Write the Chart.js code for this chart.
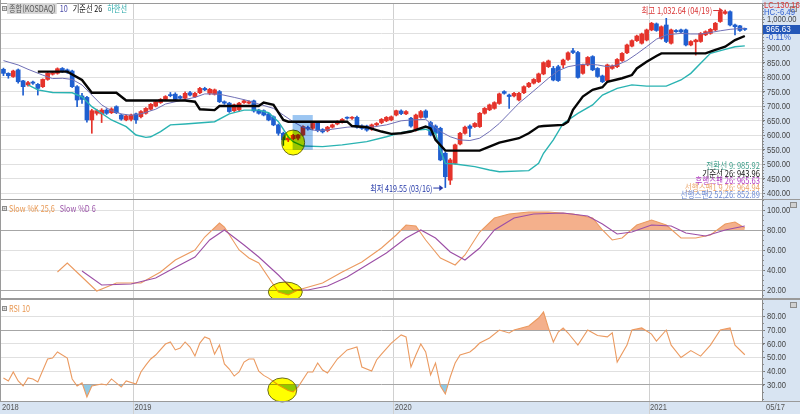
<!DOCTYPE html>
<html lang="ko">
<head>
<meta charset="utf-8">
<title>종합(KOSDAQ) 주봉</title>
<script src="https://cdn.jsdelivr.net/npm/chart.js@4.4.1/dist/chart.umd.min.js"></script>
<style>
  html, body { margin: 0; padding: 0; background: #fff; }
  #wrap { position: relative; width: 800px; height: 414px; overflow: hidden; background: #fff; }
  #wrap canvas { position: absolute; left: 0; }
</style>
</head>
<body>
<div id="wrap">
  <canvas id="priceChart" width="800" height="200" style="top:0"></canvas>
  <canvas id="stochChart" width="800" height="100" style="top:199px"></canvas>
  <canvas id="rsiChart" width="800" height="115" style="top:299px"></canvas>
</div>
<script>
// weekly candles, first week 2018-06-25, last week 2021-05-17
const firstWeek = '2018-06-25';
const emptySlots = 3;

const opens = [
  828, 814, 803, 826, 788, 774, 784, 776, 768, 793,
  811, 814, 831, 826, 822, 768, 736, 731, 653, 676,
  674, 687, 678, 699, 670, 653, 655, 674, 664, 676,
  690, 701, 713, 724, 740, 742, 734, 728, 747, 733,
  747, 762, 745, 742, 751, 716, 711, 685, 688, 713,
  711, 719, 687, 685, 674, 664, 636, 607, 584, 588,
  590, 601, 627, 624, 644, 620, 616, 628, 639, 645,
  661, 659, 662, 632, 632, 621, 636, 644, 650, 653,
  670, 684, 674, 659, 618, 662, 684, 644, 632, 624,
  538, 445, 503, 570, 607, 632, 630, 630, 676, 688,
  693, 710, 751, 739, 736, 722, 747, 768, 780, 785,
  812, 837, 831, 837, 843, 862, 892, 886, 814, 843,
  872, 831, 805, 789, 831, 837, 858, 885, 908, 927,
  918, 929, 964, 985, 935, 981, 918, 962, 964, 964,
  912, 923, 924, 947, 952, 964, 993, 1021, 1027, 981,
  978, 966
];
const highs = [
  832, 816, 825, 829, 790, 786, 787, 779, 795, 817,
  819, 833, 834, 829, 825, 772, 745, 735, 690, 690,
  692, 692, 695, 702, 673, 670, 673, 677, 685, 696,
  710, 719, 727, 737, 748, 747, 737, 750, 752, 748,
  766, 766, 762, 760, 755, 719, 714, 708, 714, 722,
  719, 722, 690, 688, 677, 667, 639, 611, 596, 603,
  603, 633, 632, 644, 647, 623, 631, 639, 650, 658,
  664, 665, 666, 636, 635, 639, 644, 658, 665, 667,
  687, 688, 685, 662, 673, 686, 688, 648, 636, 628,
  542, 520, 570, 610, 632, 636, 644, 679, 696, 708,
  716, 746, 754, 742, 748, 748, 771, 783, 796, 815,
  854, 860, 838, 842, 863, 888, 900, 890, 846, 872,
  875, 834, 808, 846, 843, 865, 886, 915, 930, 946,
  953, 967, 990, 988, 978, 1004, 967, 965, 967, 967,
  927, 932, 955, 961, 969, 990, 1030, 1032.64, 1030, 984,
  980, 970
];
const lows = [
  806, 797, 800, 780, 739, 770, 776, 739, 765, 790,
  808, 811, 817, 814, 765, 699, 710, 645, 607, 670,
  644, 672, 675, 675, 652, 650, 650, 641, 660, 673,
  687, 698, 710, 721, 733, 721, 725, 724, 736, 730,
  744, 754, 740, 739, 713, 707, 679, 682, 682, 710,
  708, 680, 673, 667, 650, 633, 600, 565, 578, 584,
  584, 598, 618, 620, 612, 608, 612, 625, 636, 642,
  656, 655, 625, 620, 614, 617, 633, 640, 647, 650,
  667, 671, 671, 628, 614, 659, 659, 598, 604, 512,
  419.55, 430, 500, 567, 604, 595, 627, 627, 673, 685,
  690, 707, 742, 693, 733, 719, 744, 765, 777, 782,
  809, 834, 788, 786, 834, 859, 882, 797, 811, 840,
  823, 800, 782, 786, 828, 834, 855, 882, 905, 924,
  915, 926, 961, 959, 932, 920, 915, 955, 954, 909,
  909, 877, 921, 944, 949, 961, 990, 1018, 978, 947,
  959, 962
];
const closes = [
  814, 806, 822, 785, 768, 782, 780, 762, 793, 814,
  816, 830, 820, 818, 768, 722, 724, 653, 685, 685,
  687, 676, 691, 678, 656, 667, 670, 653, 682, 693,
  707, 716, 724, 734, 737, 724, 728, 745, 739, 745,
  762, 757, 759, 757, 716, 711, 682, 705, 711, 719,
  716, 684, 676, 670, 653, 636, 607, 584, 590, 600,
  601, 630, 622, 641, 616, 612, 628, 636, 647, 655,
  659, 662, 628, 624, 618, 636, 641, 655, 662, 664,
  685, 675, 682, 632, 670, 682, 662, 601, 607, 515,
  457, 515, 567, 607, 628, 624, 641, 676, 693, 705,
  713, 743, 745, 734, 745, 745, 768, 780, 793, 812,
  851, 857, 791, 789, 860, 885, 886, 800, 843, 869,
  826, 803, 785, 843, 839, 862, 883, 912, 927, 943,
  950, 964, 987, 962, 975, 924, 964, 958, 957, 912,
  924, 929, 952, 958, 966, 987, 1027, 1027, 981, 975,
  962, 965.63
];

// lines as [week index, value]
const line10 = [
  [0, 858], [3, 843], [5, 828], [8, 808], [10, 796], [12, 797], [14, 793], [16, 774],
  [18, 739], [20, 705], [22, 685], [24, 674], [26, 669], [28, 674], [31, 690], [33, 708],
  [36, 720], [39, 731], [41, 743], [44, 742], [47, 731], [50, 719], [52, 708], [55, 693],
  [57, 670], [59, 647], [61, 628], [63, 618], [65, 616], [67, 621], [70, 628], [73, 632],
  [75, 628], [78, 636], [81, 650], [83, 653], [86, 655], [89, 613], [91, 595], [93, 584],
  [95, 582], [97, 590], [99, 613], [101, 641], [103, 676], [105, 711], [107, 739], [109, 768],
  [111, 797], [113, 823], [115, 837], [117, 843], [119, 846], [121, 843], [123, 837], [125, 843],
  [127, 858], [129, 881], [131, 906], [133, 932], [135, 947], [138, 952], [140, 950], [142, 950],
  [144, 955], [146, 961], [148, 966], [151, 970]
];
const baseLine26 = [
  [7, 820], [13, 820], [16, 791], [18, 747], [23, 747], [25, 720], [37, 720], [39, 716],
  [40, 690], [43, 687], [44, 701], [52, 701], [53, 713], [55, 705], [57, 653], [58, 647],
  [70, 647], [71, 632], [74, 628], [77, 613], [79, 605], [81, 607], [83, 613], [86, 630],
  [87, 624], [88, 584], [90, 547], [97, 547], [99, 561], [101, 575], [105, 590], [107, 607],
  [109, 630], [110, 632], [114, 636], [115, 647], [116, 688], [118, 734], [120, 757], [122, 766],
  [123, 785], [126, 797], [128, 808], [129, 831], [131, 854], [133, 874], [134, 883], [143, 883],
  [145, 895], [147, 906], [149, 929], [151, 943]
];
const lowerLine = [
  [5, 774], [7, 757], [10, 748], [14, 747], [16, 733], [18, 699], [22, 653], [25, 630],
  [27, 601], [29, 593], [30, 595], [32, 613], [34, 636], [37, 639], [43, 647], [46, 674],
  [49, 687], [52, 687], [54, 678], [56, 647], [58, 595], [59, 578], [61, 563], [65, 561],
  [69, 567], [74, 578], [78, 595], [81, 609], [83, 616], [86, 621], [88, 607], [89, 549],
  [90, 503], [92, 501], [96, 492], [99, 480], [101, 474], [107, 478], [109, 503], [110, 538],
  [112, 584], [114, 641], [117, 676], [120, 705], [122, 739], [125, 762], [128, 774], [131, 770],
  [135, 770], [138, 791], [140, 814], [142, 849], [144, 883], [147, 897], [149, 906], [151, 909]
];

const slowK = [
  [11, 38], [13, 47], [16, 33], [19, 19], [23, 27], [28, 27], [32, 38], [35, 50],
  [39, 60], [41, 73], [44, 87], [45, 83], [48, 60], [50, 52], [52, 47], [56, 18],
  [58, 15], [60, 20], [65, 27], [69, 38], [73, 48], [77, 62], [80, 75], [82, 85],
  [84, 84], [86, 70], [89, 52], [92, 45], [94, 55], [97, 78], [100, 92], [103, 96],
  [107, 98], [111, 98], [116, 96], [120, 92], [122, 80], [124, 70], [126, 72], [129, 85],
  [132, 90], [135, 85], [138, 72], [141, 72], [144, 75], [147, 86], [149, 88], [151, 82]
];
const slowD = [
  [16, 39], [20, 25], [26, 26], [31, 32], [34, 40], [39, 53], [42, 70], [45, 80],
  [49, 65], [52, 53], [56, 35], [59, 20], [62, 20], [66, 24], [70, 33], [74, 45],
  [78, 57], [82, 72], [85, 80], [88, 72], [91, 58], [94, 50], [97, 62], [100, 80],
  [104, 92], [108, 96], [114, 97], [119, 94], [122, 86], [125, 76], [128, 78], [132, 85],
  [136, 84], [139, 77], [143, 74], [147, 80], [151, 84]
];
const rsi10 = [
  [0, 35.1], [1, 32.9], [2, 39.5], [3, 32.9], [4, 29.3], [5, 35.1], [6, 34.4], [7, 32.2],
  [9, 48.9], [10, 49.6], [11, 54], [13, 49.6], [14, 34.4], [15, 29.3], [16, 31.5], [17, 21.3],
  [18, 29.3], [20, 30.7], [21, 30], [22, 34.4], [24, 28.5], [25, 32.9], [27, 30.7], [28, 39.5],
  [29, 44.5], [30, 48.9], [31, 51.8], [33, 59.8], [34, 61.3], [35, 55.5], [36, 56.9], [37, 61.3],
  [38, 57.6], [39, 51.1], [40, 60.5], [41, 64.9], [42, 63.5], [43, 52.5], [44, 59.1], [45, 45.3],
  [46, 41.6], [47, 36.5], [48, 39.5], [49, 46.7], [50, 48.9], [51, 48.9], [52, 40], [53, 37],
  [54, 35], [56, 30], [58, 26], [59, 25], [60, 28.5], [62, 39.5], [63, 39.5], [64, 46],
  [65, 40.9], [66, 38.7], [68, 48.9], [70, 55.5], [72, 57.6], [73, 43.1], [75, 40.2], [76, 48.2],
  [77, 52.5], [79, 60.5], [81, 66.4], [82, 64.9], [83, 43.1], [84, 51.8], [85, 59.8], [86, 54],
  [87, 37.3], [88, 46], [89, 29.3], [90, 23.5], [91, 35.8], [92, 46], [93, 51.8], [95, 54],
  [96, 56.9], [97, 60.5], [99, 64.2], [101, 70], [103, 67.8], [104, 70], [107, 72.9], [109, 78.7],
  [110, 83.1], [111, 71.5], [112, 61.3], [113, 68.5], [114, 71.5], [115, 67.8], [117, 59], [119, 70],
  [121, 66], [123, 65], [124, 68], [125, 46.7], [127, 59], [128, 70], [130, 71.5], [132, 67],
  [133, 62], [135, 70], [136, 59], [138, 50], [140, 55], [142, 51], [144, 59], [146, 70],
  [148, 71.5], [149, 59], [151, 52]
];

// axis ticks
const priceTicks = [400, 450, 500, 550, 600, 650, 700, 750, 800, 850, 900, 950, 1000];
const stochTicks = [20, 40, 60, 80, 100];
const rsiTicks = [30, 40, 50, 60, 70, 80];
const yearTicks = [[0, '2018'], [27, '2019'], [80, '2020'], [132, '2021']];
const lastDateLabel = '05/17';

const legendRows = [
  ['전환선 9: 985.92', '#3f9e8a'],
  ['기준선 26: 943.96', '#111111'],
  ['후행스팬 26: 965.63', '#b23cc2'],
  ['선행스팬1 9,26: 964.94', '#eba66c'],
  ['선행스팬2 52,26: 852.89', '#6c8ad6']
];

const UP = '#e5332b', DOWN = '#1f5fd0';
const AXIS_BG = '#d8e4f2';
const NUM_FONT = '"Liberation Sans", "DejaVu Sans", sans-serif';
const KR_FONT = '"Noto Sans CJK KR", "Noto Sans", sans-serif';

// category labels (week dates)
const nWeeks = closes.length;
const nSlots = nWeeks + emptySlots;
const weekLabels = [];
(function () {
  const d = new Date(firstWeek + 'T00:00:00Z');
  for (let k = 0; k < nSlots; k++) {
    weekLabels.push(d.toISOString().slice(0, 10));
    d.setUTCDate(d.getUTCDate() + 7);
  }
})();
const yearIdx = yearTicks.map(t => t[0]);

function sparse(pts) {
  const arr = new Array(nSlots).fill(null);
  pts.forEach(function (p) { arr[p[0]] = p[1]; });
  return arr;
}
function fmt(v) {
  return v.toLocaleString('en-US', { minimumFractionDigits: 2, maximumFractionDigits: 2 });
}

const candleColors = closes.map((c, k) => c >= opens[k] ? UP : DOWN);
const bodies = closes.map((c, k) => [opens[k], c]);
const wicks = closes.map((c, k) => [lows[k], highs[k]]);

// narrow text, like the terminal's small bitmap font
function label(ctx, text, x, y, sx, align) {
  const w = ctx.measureText(text).width * sx;
  const x0 = align === 'right' ? x - w : x;
  ctx.save();
  ctx.textAlign = 'left';
  ctx.translate(x0, y);
  ctx.scale(sx, 1);
  ctx.fillText(text, 0, 0);
  ctx.restore();
  return w;
}

function xAxis(showLabels) {
  return {
    type: 'category',
    offset: true,
    grid: {
      offset: true,
      color: ctx => yearIdx.indexOf(ctx.index) > 0 ? '#d0d0d0' : 'rgba(0,0,0,0)',
      drawTicks: showLabels,
      tickLength: 13
    },
    border: { display: false },
    ticks: { display: false },
    afterFit: s => {
      s.height = showLabels ? 13 : 0;
      s.paddingLeft = 0; s.paddingRight = 0;
    }
  };
}

function yAxis(min, max, ticks, gridColor) {
  return {
    position: 'right',
    min: min,
    max: max,
    afterBuildTicks: s => { s.ticks = ticks.map(v => ({ value: v })); },
    afterFit: s => {
      s.width = 38;
      s.paddingTop = 0; s.paddingBottom = 0;
    },
    grid: { color: gridColor, tickLength: 3, tickColor: '#777' },
    border: { display: true, color: '#8a8a8a' },
    ticks: { display: false }
  };
}

function drawBullet(ctx, x, y) {
  ctx.fillStyle = '#fff';
  ctx.fillRect(x, y, 5, 5);
  ctx.strokeStyle = '#8a8a8a';
  ctx.lineWidth = 1;
  ctx.strokeRect(x + 0.5, y + 0.5, 4, 4);
  ctx.fillStyle = '#9a9a9a';
  ctx.fillRect(x + 1.5, y + 1.5, 2, 2);
}
function drawCorner(ctx, x, y) {
  ctx.fillStyle = '#8c8c8c';
  ctx.fillRect(x, y, 7, 6);
  ctx.fillStyle = '#d0d0d0';
  ctx.fillRect(x + 1, y + 1, 5, 4);
}
function drawYLabels(chart, skip) {
  const { ctx, chartArea: a, scales: { y } } = chart;
  ctx.font = '9px ' + NUM_FONT;
  ctx.fillStyle = '#444';
  ctx.textBaseline = 'middle';
  y.ticks.forEach(function (t) {
    if (t.value === skip) return;
    label(ctx, fmt(t.value), a.right + 5, y.getPixelForValue(t.value) + 0.5, 0.84, 'left');
  });
}
function drawMinorTicks(chart, step) {
  const { ctx, chartArea: a, scales } = chart;
  const y = scales.y;
  ctx.strokeStyle = '#8a8a8a';
  ctx.lineWidth = 1;
  ctx.beginPath();
  for (let v = Math.ceil(y.min / step) * step; v <= y.max; v += step) {
    const py = Math.round(y.getPixelForValue(v)) + 0.5;
    ctx.moveTo(a.right, py);
    ctx.lineTo(a.right + 2, py);
  }
  ctx.stroke();
}
function arrow(ctx, x1, x2, y, color) {
  ctx.strokeStyle = color;
  ctx.fillStyle = color;
  ctx.lineWidth = 1;
  ctx.beginPath();
  ctx.moveTo(x1, y + 0.5);
  ctx.lineTo(x2 - 3, y + 0.5);
  ctx.stroke();
  ctx.beginPath();
  ctx.moveTo(x2, y + 0.5);
  ctx.lineTo(x2 - 4, y - 2.5);
  ctx.lineTo(x2 - 4, y + 3.5);
  ctx.closePath();
  ctx.fill();
}
// yellow marker, blended like a highlighter over what is below
function highlightCircle(ctx, cx, cy, rx, ry) {
  ctx.save();
  ctx.globalCompositeOperation = 'multiply';
  ctx.beginPath();
  ctx.ellipse(cx, cy, rx, ry, 0, 0, Math.PI * 2);
  ctx.fillStyle = '#ffff00';
  ctx.fill();
  ctx.restore();
  ctx.beginPath();
  ctx.ellipse(cx, cy, rx, ry, 0, 0, Math.PI * 2);
  ctx.strokeStyle = '#6d6d1e';
  ctx.lineWidth = 1;
  ctx.stroke();
}

const framePlugin = {
  id: 'frame',
  beforeDraw(chart) {
    const { ctx, chartArea: a, width, height } = chart;
    ctx.save();
    ctx.fillStyle = '#fff';
    ctx.fillRect(0, 0, width, height);
    ctx.fillStyle = AXIS_BG;
    ctx.fillRect(a.right, 0, width - a.right, height);
    if (chart.options.plugins.frame.band) {
      ctx.fillRect(0, a.bottom, width, height - a.bottom);
    }
    ctx.restore();
  },
  afterDraw(chart) {
    const { ctx, chartArea: a, width } = chart;
    const opt = chart.options.plugins.frame;
    ctx.save();
    drawMinorTicks(chart, opt.minorStep);
    drawYLabels(chart, opt.skipLabel);
    ctx.strokeStyle = '#9a9a9a';
    ctx.lineWidth = 1;
    ctx.beginPath();
    ctx.moveTo(0.5, 0); ctx.lineTo(0.5, a.bottom);
    ctx.moveTo(0, a.top - 0.5); ctx.lineTo(width, a.top - 0.5);
    ctx.moveTo(0, a.bottom + 0.5); ctx.lineTo(width, a.bottom + 0.5);
    ctx.stroke();
    drawCorner(ctx, 790, a.top + 2);
    ctx.restore();
  }
};

Chart.defaults.font.family = NUM_FONT;
const baseOptions = {
  responsive: false,
  animation: false,
  events: [],
  plugins: { legend: { display: false }, tooltip: { enabled: false } }
};

// ---------- price panel ----------
new Chart(document.getElementById('priceChart'), {
  type: 'bar',
  data: {
    labels: weekLabels,
    datasets: [
      { type: 'line', label: '기준선 26', data: sparse(baseLine26), borderColor: '#050505', borderWidth: 2.4,
        pointRadius: 0, spanGaps: true, order: 0 },
      { type: 'line', label: '10', data: sparse(line10), borderColor: '#7070b6', borderWidth: 1,
        pointRadius: 0, spanGaps: true, order: 1 },
      { type: 'line', label: '하한선', data: sparse(lowerLine), borderColor: '#2ab3b2', borderWidth: 1.4,
        pointRadius: 0, spanGaps: true, order: 2 },
      { label: 'body', data: bodies, backgroundColor: candleColors, barThickness: 4, grouped: false,
        minBarLength: 1, order: 3 },
      { label: 'wick', data: wicks, backgroundColor: candleColors, barThickness: 1, grouped: false, order: 4 }
    ]
  },
  options: Object.assign({}, baseOptions, {
    layout: { padding: { left: 1, right: 0, top: 4, bottom: 1 } },
    scales: {
      x: xAxis(false),
      y: yAxis(380, 1053.5, priceTicks, '#e0e0e0')
    },
    plugins: Object.assign({}, baseOptions.plugins, { frame: { minorStep: 10, skipLabel: 950 } })
  }),
  plugins: [framePlugin, {
    id: 'priceDecor',
    afterDatasetsDraw(chart) {
      const { ctx, scales: { x, y } } = chart;
      ctx.save();
      // translucent selection box and marker circle
      const bx0 = x.getPixelForValue(59) - 0.5, bx1 = x.getPixelForValue(63);
      const by0 = y.getPixelForValue(670), by1 = y.getPixelForValue(550);
      highlightCircle(ctx, x.getPixelForValue(59), y.getPixelForValue(575), 11.5, 12.5);
      ctx.globalCompositeOperation = 'multiply';
      ctx.fillStyle = '#9cc6f2';
      ctx.fillRect(bx0, by0, bx1 - bx0, by1 - by0);
      ctx.restore();
    },
    afterDraw(chart) {
      const { ctx, chartArea: a, scales: { x, y } } = chart;
      ctx.save();
      ctx.textBaseline = 'middle';
      // title
      drawBullet(ctx, 2, 6);
      ctx.font = '9px ' + KR_FONT;
      let tx = 9;
      const t0 = '종합(KOSDAQ)';
      const w0 = ctx.measureText(t0).width * 0.8;
      ctx.fillStyle = '#d6d6d6';
      ctx.fillRect(tx - 2, 3, w0 + 3, 11);
      ctx.fillStyle = '#555';
      label(ctx, t0, tx, 9, 0.8);
      tx += w0 + 4;
      [['10', '#4a4aa8'], ['기준선 26', '#111'], ['하한선', '#27a8a8']].forEach(function (p) {
        ctx.fillStyle = p[1];
        tx += label(ctx, p[0], tx, 9, 0.8) + 5;
      });
      // high / low notes
      const hx = x.getPixelForValue(147), hy = y.getPixelForValue(1032.64);
      ctx.fillStyle = '#d93434';
      label(ctx, '최고 1,032.64 (04/19)', hx - 13, hy + 1, 0.83, 'right');
      arrow(ctx, hx - 12, hx - 2, hy, '#d93434');
      const lx = x.getPixelForValue(90), ly = y.getPixelForValue(419.55);
      ctx.fillStyle = '#2438a8';
      label(ctx, '최저 419.55 (03/16)', lx - 13, ly + 1, 0.8, 'right');
      arrow(ctx, lx - 12, lx - 2, ly, '#2438a8');
      // indicator legend
      legendRows.forEach(function (r, k) {
        ctx.fillStyle = r[1];
        label(ctx, r[0], a.right - 2, 166 + k * 7.2, 0.84, 'right');
      });
      // right axis notes
      ctx.font = '9px ' + NUM_FONT;
      ctx.fillStyle = '#d93434';
      label(ctx, 'LC:130.16', a.right + 2, 5.5, 0.86);
      ctx.fillStyle = '#2f5fd0';
      label(ctx, 'HC:-6.49', a.right + 2, 12.5, 0.86);
      const cy = Math.round(y.getPixelForValue(closes[closes.length - 1]));
      ctx.fillStyle = '#2357b8';
      ctx.fillRect(a.right + 1, cy - 4, 37, 9);
      ctx.fillStyle = '#fff';
      label(ctx, fmt(closes[closes.length - 1]), a.right + 4, cy + 1, 0.9);
      ctx.fillStyle = '#2f5fd0';
      label(ctx, '-0.11%', a.right + 4, cy + 9, 0.9);
      ctx.restore();
    }
  }]
});

// ---------- slow stochastic ----------
new Chart(document.getElementById('stochChart'), {
  type: 'line',
  data: {
    labels: weekLabels,
    datasets: [
      { label: 'Slow %K 25,6', data: sparse(slowK), borderColor: '#eb9a60', borderWidth: 1.1, pointRadius: 0,
        spanGaps: true, fill: { target: { value: 80 }, above: '#f4b08c', below: 'rgba(0,0,0,0)' }, order: 1 },
      { label: 'k-low', data: sparse(slowK), borderColor: 'rgba(0,0,0,0)', borderWidth: 0, pointRadius: 0,
        spanGaps: true, fill: { target: { value: 20 }, above: 'rgba(0,0,0,0)', below: '#90c9e4' }, order: 2 },
      { label: 'Slow %D 6', data: sparse(slowD), borderColor: '#9c4fa6', borderWidth: 1.1, pointRadius: 0,
        spanGaps: true, order: 0 }
    ]
  },
  options: Object.assign({}, baseOptions, {
    layout: { padding: { left: 1, right: 0, top: 1, bottom: 1 } },
    scales: {
      x: xAxis(false),
      y: yAxis(12, 110, stochTicks, ctx => (ctx.tick.value === 80 || ctx.tick.value === 20) ? '#a6a6a6' : '#e0e0e0')
    },
    plugins: Object.assign({}, baseOptions.plugins, { frame: { minorStep: 5 } })
  }),
  plugins: [framePlugin, {
    id: 'stochDecor',
    afterDatasetsDraw(chart) {
      const { ctx, scales: { x, y } } = chart;
      ctx.save();
      highlightCircle(ctx, x.getPixelForValue(57) + 2, y.getPixelForValue(18), 17, 10);
      ctx.restore();
    },
    afterDraw(chart) {
      const { ctx } = chart;
      ctx.save();
      ctx.textBaseline = 'middle';
      drawBullet(ctx, 2, 7);
      ctx.font = '9px ' + KR_FONT;
      ctx.fillStyle = '#e8964f';
      const w = label(ctx, 'Slow %K 25,6', 9, 10, 0.8);
      ctx.fillStyle = '#9a52a8';
      label(ctx, 'Slow %D 6', 9 + w + 5, 10, 0.8);
      ctx.restore();
    }
  }]
});

// ---------- RSI ----------
new Chart(document.getElementById('rsiChart'), {
  type: 'line',
  data: {
    labels: weekLabels,
    datasets: [
      { label: 'RSI 10', data: sparse(rsi10), borderColor: '#eb9a60', borderWidth: 1.1, pointRadius: 0,
        spanGaps: true, fill: { target: { value: 70 }, above: '#f4b08c', below: 'rgba(0,0,0,0)' }, order: 0 },
      { label: 'rsi-low', data: sparse(rsi10), borderColor: 'rgba(0,0,0,0)', borderWidth: 0, pointRadius: 0,
        spanGaps: true, fill: { target: { value: 30 }, above: 'rgba(0,0,0,0)', below: '#90c9e4' }, order: 1 }
    ]
  },
  options: Object.assign({}, baseOptions, {
    layout: { padding: { left: 1, right: 0, top: 1, bottom: 0 } },
    scales: {
      x: xAxis(true),
      y: yAxis(18.36, 91.82, rsiTicks, ctx => (ctx.tick.value === 70 || ctx.tick.value === 30) ? '#a6a6a6' : '#e0e0e0')
    },
    plugins: Object.assign({}, baseOptions.plugins, { frame: { minorStep: 5, band: true } })
  }),
  plugins: [framePlugin, {
    id: 'rsiDecor',
    afterDatasetsDraw(chart) {
      const { ctx, scales: { x, y } } = chart;
      ctx.save();
      highlightCircle(ctx, x.getPixelForValue(57) - 1, y.getPixelForValue(26.4), 14.5, 12);
      ctx.restore();
    },
    afterDraw(chart) {
      const { ctx, chartArea: a, scales: { x } } = chart;
      ctx.save();
      ctx.textBaseline = 'middle';
      drawBullet(ctx, 2, 7);
      ctx.font = '9px ' + KR_FONT;
      ctx.fillStyle = '#e8964f';
      label(ctx, 'RSI 10', 9, 10, 0.8);
      // date axis
      ctx.font = '9px ' + NUM_FONT;
      ctx.fillStyle = '#555';
      const half = (x.getPixelForValue(1) - x.getPixelForValue(0)) / 2;
      yearTicks.forEach(function (t) {
        label(ctx, t[1], x.getPixelForValue(t[0]) - half + 1, a.bottom + 7, 0.84);
      });
      label(ctx, lastDateLabel, a.right + 4, a.bottom + 7, 0.84);
      ctx.restore();
    }
  }]
});
</script>
</body>
</html>
